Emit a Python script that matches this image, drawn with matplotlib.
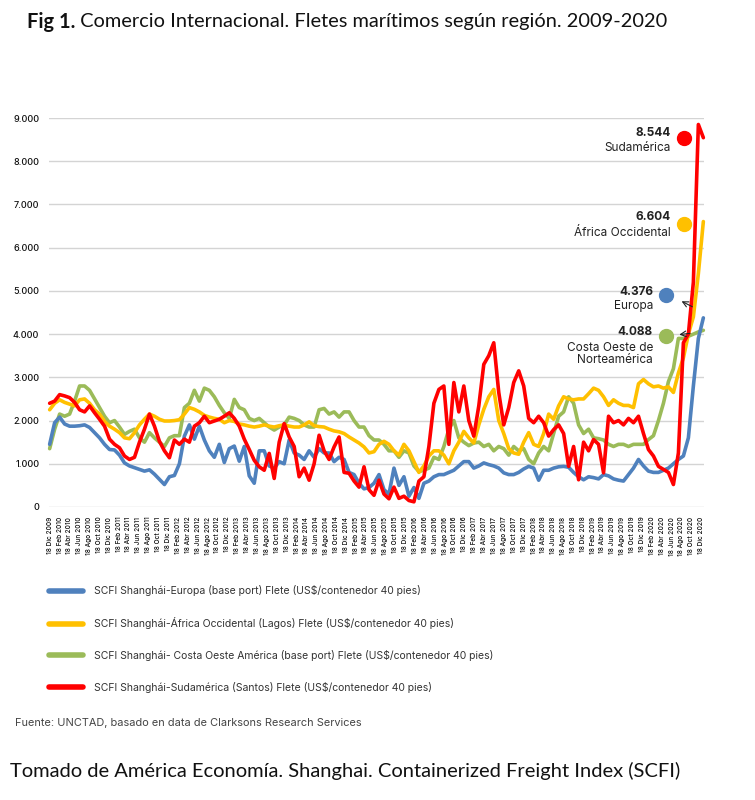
import numpy as np
import pandas as pd
import matplotlib
matplotlib.use("Agg")
import matplotlib.pyplot as plt
from matplotlib.lines import Line2D
from matplotlib.transforms import blended_transform_factory

# ----------------------------------------------------------------------
# Data (~monthly samples Dec 2009 - Dec 2020)
# ----------------------------------------------------------------------
start, end, n_points = "2009-12-18", "2020-12-31", 132

europa = [
    1450, 1950, 2080, 1920, 1870, 1870, 1880, 1900, 1840, 1720, 1600, 1450,
    1330, 1320, 1200, 1020, 950, 910, 870, 830, 860, 760, 640, 520,
    700, 730, 1000, 1640, 1900, 1570, 1870, 1550, 1300, 1150, 1450, 1030,
    1350, 1410, 1060, 1400, 720, 550, 1300, 1300, 950, 900, 1050, 1000,
    1550, 1250, 1200, 1100, 1300, 1150, 1350, 1250, 1250, 1050, 1150, 1100,
    800, 750, 550, 420, 450, 550, 750, 400, 300, 900, 500, 700,
    250, 450, 200, 550, 600, 700, 750, 750, 800, 850, 950, 1050,
    1050, 900, 950, 1020, 980, 950, 900, 790, 750, 750, 800, 880,
    940, 900, 620, 850, 850, 900, 930, 940, 920, 800, 700, 630,
    700, 680, 650, 750, 720, 650, 620, 600, 750, 900, 1100, 950,
    830, 800, 800, 850, 900, 1000, 1100, 1180, 1600, 2800, 3900, 4376,
]
africa = [
    2250, 2400, 2480, 2420, 2380, 2340, 2480, 2500, 2400, 2250, 2150, 1980,
    1870, 1800, 1720, 1600, 1580, 1720, 1900, 2030, 2150, 2100, 2030, 1990,
    1990, 2000, 2020, 2150, 2300, 2260, 2200, 2120, 2080, 2050, 2030, 1950,
    2000, 1980, 1920, 1900, 1870, 1850, 1870, 1900, 1870, 1850, 1880, 1900,
    1870, 1850, 1850, 1900, 1970, 1880, 1860, 1850, 1800, 1760, 1740, 1700,
    1620, 1550, 1480, 1390, 1250, 1280, 1450, 1520, 1450, 1300, 1200, 1450,
    1300, 1050, 800, 950, 1180, 1300, 1300, 1200, 1000, 1300, 1500, 1750,
    1600, 1480, 1900, 2260, 2550, 2720, 2000, 1700, 1350, 1250, 1220, 1500,
    1720, 1450, 1400, 1700, 2150, 2030, 2340, 2550, 2500, 2480, 2500, 2500,
    2620, 2750, 2700, 2550, 2350, 2480, 2400, 2350, 2350, 2300, 2850, 2950,
    2850, 2780, 2800, 2750, 2780, 2650, 3100, 3450, 4000, 4400, 5400, 6604,
]
costa_oeste = [
    1350, 1800, 2150, 2100, 2150, 2450, 2800, 2800, 2700, 2500, 2300, 2100,
    1950, 2000, 1850, 1680, 1750, 1800, 1600, 1500, 1720, 1600, 1500, 1400,
    1600, 1650, 1650, 2300, 2400, 2700, 2450, 2750, 2700, 2550, 2350, 2180,
    2050, 2490, 2300, 2250, 2050, 2000, 2050, 1950, 1850, 1780, 1850, 1900,
    2080, 2050, 2000, 1900, 1850, 1850, 2250, 2280, 2150, 2200, 2080, 2200,
    2200, 2000, 1850, 1850, 1650, 1550, 1550, 1450, 1300, 1300, 1150, 1300,
    1250, 950, 820, 850, 900, 1150, 1100, 1400, 1800, 2000, 1600, 1500,
    1420, 1480, 1500, 1400, 1450, 1300, 1400, 1350, 1200, 1400, 1300, 1350,
    1100, 1000, 1250, 1400, 1300, 1700, 2100, 2200, 2550, 2400, 1900, 1700,
    1800, 1600, 1580, 1550, 1450, 1400, 1450, 1450, 1400, 1450, 1450, 1450,
    1560, 1650, 2000, 2400, 2900, 3200, 3900, 3900, 3950, 4000, 4050, 4088,
]
sudamerica = [
    2400, 2450, 2600, 2570, 2530, 2420, 2250, 2200, 2340, 2180, 2030, 1870,
    1570, 1450, 1370, 1180, 1100, 1150, 1500, 1800, 2150, 1870, 1520, 1300,
    1140, 1550, 1450, 1570, 1500, 1870, 1950, 2100, 1950, 1990, 2030, 2100,
    2180, 2050, 1870, 1570, 1330, 1080, 930, 850, 1240, 660, 1500, 1930,
    1620, 1400, 700, 900, 620, 1000, 1660, 1300, 1100, 1390, 1620, 800,
    780, 600, 460, 930, 400, 270, 620, 300, 190, 460, 200, 250,
    150, 120, 600, 700, 1400, 2400, 2720, 2800, 1450, 2880, 2200, 2800,
    2000, 1640, 2340, 3300, 3500, 3800, 2650, 1900, 2300, 2880, 3150, 2800,
    2050, 1950, 2100, 1950, 1640, 1790, 1900, 1700, 940, 1400, 630, 1500,
    1300, 1560, 1450, 790, 2100, 1950, 2000, 1900, 2050, 1950, 2100, 1700,
    1330, 1180, 940, 870, 800, 520, 1250, 3800, 4000, 5200, 8850, 8544,
]

legend_labels = [
    "SCFI Shanghái-Europa (base port) Flete (US$/contenedor 40 pies)",
    "SCFI Shanghái-África Occidental (Lagos) Flete (US$/contenedor 40 pies)",
    "SCFI Shanghái- Costa Oeste América (base port) Flete (US$/contenedor 40 pies)",
    "SCFI Shanghái-Sudamérica (Santos) Flete (US$/contenedor 40 pies)",
]
# last values shown next to the curves
last_labels = [("8.544", "Sudamérica"), ("6.604", "África Occidental"),
               ("4.376", "Europa"), ("4.088", "Costa Oeste de\nNorteamérica")]

month_abbr = {12: "Dic", 2: "Feb", 4: "Abr", 6: "Jun", 8: "Ago", 10: "Oct"}
yticks = [0, 1000, 2000, 3000, 4000, 5000, 6000, 7000, 8000, 9000]

title_bold = "Fig 1."
title_rest = " Comercio Internacional. Fletes marítimos según región. 2009-2020"
source = "Fuente: UNCTAD, basado en data de Clarksons Research Services"
footer = "Tomado de América Economía. Shanghai. Containerized Freight Index (SCFI)"

BLUE, YELLOW, GREEN, RED = "#4f81bd", "#ffc000", "#9bbb59", "#ff0000"
CHART_FONT = ["Inter", "DejaVu Sans"]
DOC_FONT = ["Lato", "DejaVu Sans"]

# ----------------------------------------------------------------------
dates = pd.date_range(start, end, periods=n_points)
tick_dates = pd.date_range("2009-12-01", "2020-12-01", freq="2MS") + pd.Timedelta(days=17)
tick_labels = [f"18 {month_abbr[d.month]} {d.year}" for d in tick_dates]

fig = plt.figure(figsize=(7.55, 8.0), dpi=100)
ax = fig.add_axes([49 / 755, 293 / 800, 655 / 755, 389 / 800])

kw = dict(lw=2.6, solid_joinstyle="round", solid_capstyle="round", clip_on=False)
ax.plot(dates, costa_oeste, color=GREEN, zorder=3, **kw)
ax.plot(dates, europa, color=BLUE, zorder=4, **kw)
ax.plot(dates, africa, color=YELLOW, zorder=5, **kw)
ax.plot(dates, sudamerica, color=RED, zorder=6, **kw)

ax.set_xlim(pd.Timestamp("2009-12-14"), pd.Timestamp("2021-01-04"))
ax.set_ylim(0, 9000)
ax.set_yticks(yticks)
ax.set_yticklabels([f"{v:,}".replace(",", ".") for v in yticks],
                   fontsize=6.5, family=CHART_FONT, color="#111", fontweight="medium")
ax.set_xticks(tick_dates)
ax.set_xticklabels(tick_labels, rotation=90, fontsize=4.7, family=CHART_FONT,
                   color="#111", va="top", fontweight="medium")
ax.tick_params(axis="both", length=0)
ax.tick_params(axis="y", pad=7)
ax.tick_params(axis="x", pad=7)
ax.grid(axis="y", color="#d4d4d4", lw=1.0, zorder=0)
for s in ax.spines.values():
    s.set_visible(False)

# annotations at the right end
tr = blended_transform_factory(ax.transAxes, ax.transData)
dot_pos = [(0.9695, 8540, RED), (0.9695, 6550, YELLOW), (0.942, 4905, BLUE), (0.942, 3957, GREEN)]
for x, y, c in dot_pos:
    ax.scatter([x], [y], s=100, color=c, transform=tr, zorder=7, clip_on=False)
text_pos = [(0.9496, 8653, 8306), (0.9496, 6710, 6340), (0.922, 4975, 4650), (0.922, 4049, 3540)]
for (val, name), (x, y1, y2) in zip(last_labels, text_pos):
    ax.text(x, y1, val, transform=tr, ha="right", va="center", fontsize=8.5,
            fontweight="bold", family=CHART_FONT, color="#222")
    ax.text(x, y2, name, transform=tr, ha="right", va="center", fontsize=8.5,
            family=CHART_FONT, color="#222", linespacing=1.05)
for (x0, y0), (x1, y1) in [((0.986, 4604), (0.962, 4789)), ((0.983, 4026), (0.958, 3980))]:
    ax.annotate("", xy=(x1, y1), xytext=(x0, y0), xycoords=tr, textcoords=tr,
                arrowprops=dict(arrowstyle="->", lw=0.8, color="#222"), zorder=8)

# legend
handles = [Line2D([], [], color=c, lw=4, solid_capstyle="round") for c in (BLUE, YELLOW, GREEN, RED)]
fig.legend(handles, legend_labels, loc="upper left", bbox_to_anchor=(40 / 755, 1 - 576 / 800),
           frameon=False, prop={"family": CHART_FONT, "size": 7.5}, handlelength=3.2,
           handletextpad=1.05, labelspacing=2.0, labelcolor="#333")

fig.text(15 / 755, 1 - 723 / 800, source, fontsize=7.9, family=CHART_FONT, color="#444", va="center")
fig.text(10 / 755, 1 - 771 / 800, footer, fontsize=14.5, family=DOC_FONT, color="#111", va="center")

# title: bold prefix then normal text
t1 = fig.text(27 / 755, 1 - 22 / 800, title_bold, fontsize=14.4, family=DOC_FONT,
              fontweight="bold", color="#111", va="center")
renderer = fig.canvas.get_renderer()
bb = t1.get_window_extent(renderer)
fig.text(bb.x1 / fig.bbox.width, 1 - 22 / 800, title_rest, fontsize=14.4, family=DOC_FONT,
         color="#111", va="center")

fig.savefig("out.png", dpi=100)
